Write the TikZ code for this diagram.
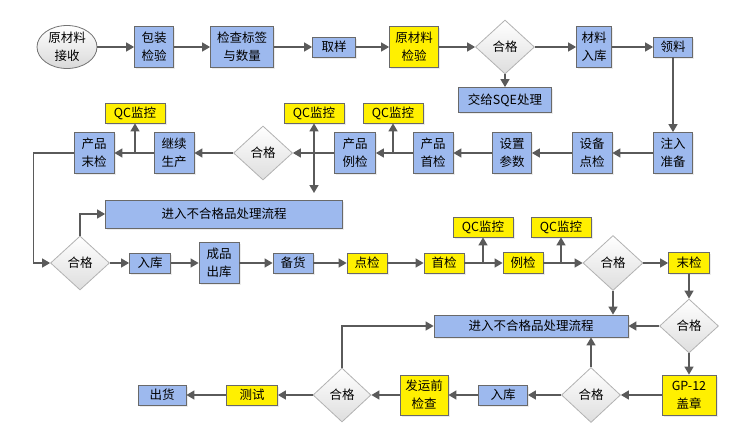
\documentclass[tikz,border=0pt]{standalone}
\usepackage{fontspec}
\setmainfont{Noto Sans CJK SC}
\usetikzlibrary{shapes.geometric,arrows.meta,shadows}

\definecolor{boxblue}{RGB}{157,185,238}
\definecolor{boxyellow}{RGB}{255,240,0}
\definecolor{boxline}{RGB}{105,105,105}
\definecolor{linegray}{RGB}{90,90,90}

\tikzset{
  blk/.style={draw=boxline, line width=0.8pt, inner sep=0pt, align=center,
    font=\fontsize{12.5}{18}\selectfont,
    drop shadow={opacity=0.15, shadow xshift=1.5pt, shadow yshift=-1.5pt}},
  bluebox/.style={blk, fill=boxblue},
  yelbox/.style={blk, fill=boxyellow},
  chk/.style={diamond, draw=black!30, line width=0.8pt, inner sep=0pt,
    top color=white, bottom color=black!13,
    minimum width=59, minimum height=54, font=\fontsize{12.5}{18}\selectfont},
  tip/.style={Triangle[length=8pt,width=9pt]},
  arr/.style={draw=linegray, line width=1.5pt, -{Triangle[length=8pt,width=9pt]}}
}

\begin{document}
\begin{tikzpicture}[x=1pt,y=-1pt]
    \useasboundingbox (0,0) rectangle (751,431);

    % Incoming material
    \node[ellipse, draw=black!55, line width=0.8pt, top color=white, bottom color=black!15,
      minimum width=60, minimum height=43, inner sep=0pt, align=center,
      font=\fontsize{12.5}{18}\selectfont] (recv) at (67,47) {原材料\\接收};
    \node[bluebox, minimum width=39, minimum height=41] (pack) at (154,47) {包装\\检验};
    \node[bluebox, minimum width=63, minimum height=41] (label) at (242,47) {检查标签\\与数量};
    \node[bluebox, minimum width=43, minimum height=20] (samp) at (334,47) {取样};
    \node[yelbox, minimum width=49, minimum height=41] (rawchk) at (414,47) {原材料\\检验};
    \node[chk] (dia1) at (505,47) {合格};
    \node[bluebox, minimum width=35, minimum height=41] (matin) at (594,47) {材料\\入库};
    \node[bluebox, minimum width=39, minimum height=20] (take) at (673,47) {领料};
    \node[bluebox, minimum width=93, minimum height=25] (sqe) at (505,100) {交给SQE处理};

    % Production
    \node[bluebox, minimum width=39, minimum height=41] (inject) at (673,153) {注入\\准备};
    \node[bluebox, minimum width=40, minimum height=41] (devchk) at (592,153) {设备\\点检};
    \node[bluebox, minimum width=39, minimum height=41] (param) at (512,153) {设置\\参数};
    \node[bluebox, minimum width=40, minimum height=41] (first) at (433,153) {产品\\首检};
    \node[bluebox, minimum width=41, minimum height=41] (sample) at (355,153) {产品\\例检};
    \node[chk] (dia2) at (263,153) {合格};
    \node[bluebox, minimum width=40, minimum height=41] (cont) at (174,153) {继续\\生产};
    \node[bluebox, minimum width=40, minimum height=41] (final) at (94,153) {产品\\末检};

    % Finished goods
    \node[bluebox, minimum width=237, minimum height=28] (reject1) at (224,214) {进入不合格品处理流程};
    \node[chk] (dia3) at (80,263) {合格};
    \node[bluebox, minimum width=41, minimum height=20] (store1) at (150,263) {入库};
    \node[bluebox, minimum width=40, minimum height=41] (outw) at (219,263) {成品\\出库};
    \node[bluebox, minimum width=40, minimum height=20] (prep) at (293,263) {备货};
    \node[yelbox, minimum width=40, minimum height=20] (spot) at (367,263) {点检};
    \node[yelbox, minimum width=40, minimum height=20] (fchk) at (444,263) {首检};
    \node[yelbox, minimum width=40, minimum height=21] (schk) at (523,263) {例检};
    \node[chk, minimum width=60, minimum height=55] (dia4) at (613,263) {合格};
    \node[yelbox, minimum width=41, minimum height=21] (lchk) at (689,263) {末检};

    % Shipping
    \node[bluebox, minimum width=194, minimum height=22] (reject2) at (531,326) {进入不合格品处理流程};
    \node[chk] (dia5) at (689,326) {合格};
    \node[yelbox, minimum width=54, minimum height=40] (gp12) at (689,395) {GP-12\\盖章};
    \node[chk, minimum height=55] (dia6) at (591,395) {合格};
    \node[bluebox, minimum width=49, minimum height=20] (store2) at (503,395) {入库};
    \node[yelbox, minimum width=48, minimum height=40] (preship) at (424,395) {发运前\\检查};
    \node[chk, minimum width=58] (dia7) at (342,395) {合格};
    \node[yelbox, minimum width=51, minimum height=20] (test) at (252,395) {测试};
    \node[bluebox, minimum width=48, minimum height=20] (ship) at (162,395) {出货};

    % QC monitor boxes
    \foreach \n/\x/\y in {qca/135/113, qcb/314/113, qcc/393/113, qcd/483/227, qce/561/227}
        \node[yelbox, minimum width=60, minimum height=20] (\n) at (\x,\y) {QC监控};
    \coordinate (qcdown) at (314,193);

    % Main flow
    \foreach \a/\b in {recv/pack, pack/label, label/samp, samp/rawchk, rawchk/dia1,
        dia1/matin, matin/take, dia1/sqe, take/inject, inject/devchk, devchk/param,
        param/first, first/sample, sample/dia2, dia2/cont, cont/final,
        dia3/store1, store1/outw, outw/prep, prep/spot, spot/fchk, fchk/schk,
        schk/dia4, dia4/lchk, lchk/dia5, dia5/gp12, dia5/reject2, gp12/dia6,
        dia6/store2, store2/preship, preship/dia7, dia7/test, test/ship}
        \draw[arr] (\a) -- (\b);

    % QC taps
    \draw[arr] (qca.south |- final.east) -- (qca);
    \draw[arr] (qcc.south |- first.west) -- (qcc);
    \draw[arr] (qcd.south |- fchk.east) -- (qcd);
    \draw[arr] (qce.south |- schk.east) -- (qce);
    \draw[arr, {Triangle[length=8pt,width=9pt]}-{Triangle[length=8pt,width=9pt]}] (qcb) -- (qcdown);

    % Loops to nonconforming handling
    \draw[arr] (final.west) -- ++(-40,0) |- (dia3.west);
    \draw[arr] (dia3.north) |- (reject1.west);
    \draw[arr] (dia4.south) -- (dia4.south |- reject2.north);
    \draw[arr] (dia6.north) -- (dia6.north |- reject2.south);
    \draw[arr] (dia7.north) |- (reject2.west);

\end{tikzpicture}
\end{document}
